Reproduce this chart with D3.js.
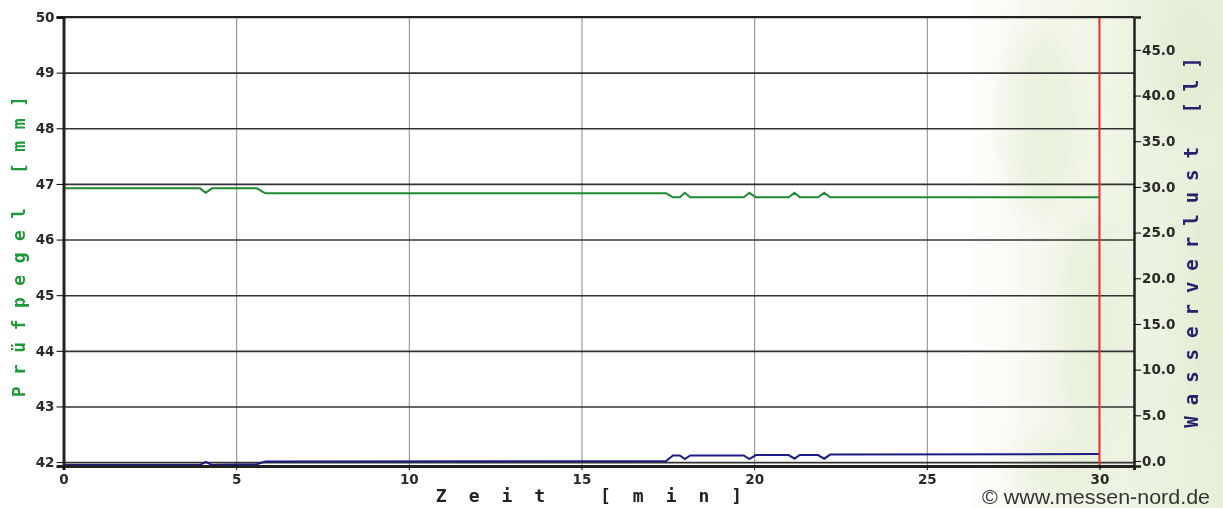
<!DOCTYPE html>
<html>
<head>
<meta charset="utf-8">
<script src="https://cdn.jsdelivr.net/npm/d3@7"></script>
<style>
  body { margin: 0; background: #fff; }
  .chart text { font-family: "Liberation Sans", Arial, sans-serif; }
  .tick text { font-family: "DejaVu Sans", sans-serif; font-size: 13.5px; font-weight: bold; fill: #2a2a2a; }
  .grid line { stroke: #333; stroke-width: 1.6; }
  .vgrid line { stroke: #888; stroke-width: 1; }
  .grid .domain, .vgrid .domain { display: none; }
</style>
</head>
<body>
<svg class="chart"></svg>
<script>
// Zeit [min]
var times = [0, 3.95, 4.12, 4.3, 5.6, 5.85, 17.45, 17.65, 17.85, 17.99, 18.15,
             19.7, 19.86, 20.05, 21.0, 21.17, 21.32, 21.85, 22.03, 22.2, 30];
// Prüfpegel [mm] (left axis)
var pruefpegel = [46.92, 46.92, 46.84, 46.92, 46.92, 46.83, 46.83, 46.76, 46.76, 46.84, 46.76,
                  46.76, 46.84, 46.76, 46.76, 46.84, 46.76, 46.76, 46.84, 46.76, 46.76];
// Wasserverlust [l] (right axis)
var wasserverlust = [-0.45, -0.45, -0.1, -0.45, -0.35, -0.05, 0.0, 0.6, 0.6, 0.2, 0.6,
                     0.6, 0.2, 0.65, 0.65, 0.25, 0.65, 0.65, 0.25, 0.7, 0.75];
// end of measurement
var endTime = 30;

var xTicks = [0, 5, 10, 15, 20, 25, 30];
var yLeftTicks = [42, 43, 44, 45, 46, 47, 48, 49, 50];
var yRightTicks = [0, 5, 10, 15, 20, 25, 30, 35, 40, 45];

(function () {
    'use strict';

    var W = 1223, H = 508;
    var left = 63.5, right = 1134, top = 17, bottom = 466;

    var svg = d3.select(".chart").attr("width", W).attr("height", H);

    // pale green paper texture on the right side
    var defs = svg.append("defs");
    var grad = defs.append("linearGradient").attr("id", "paper")
        .attr("x1", "0").attr("x2", "1").attr("y1", "0").attr("y2", "0");
    grad.append("stop").attr("offset", "0").attr("stop-color", "#ffffff");
    grad.append("stop").attr("offset", "0.3").attr("stop-color", "#f5f8ee");
    grad.append("stop").attr("offset", "1").attr("stop-color", "#e6efd8");
    defs.append("filter").attr("id", "blur")
        .append("feGaussianBlur").attr("stdDeviation", 14);

    svg.append("rect").attr("x", 960).attr("y", 0).attr("width", W - 960).attr("height", H)
        .attr("fill", "url(#paper)");
    var blobs = [[1040, 120, 35, 90], [1185, 60, 30, 70], [1090, 330, 30, 110], [1205, 300, 20, 120], [1060, 470, 45, 30]];
    svg.append("g").attr("filter", "url(#blur)").selectAll("ellipse").data(blobs).enter()
        .append("ellipse")
        .attr("cx", function (d) { return d[0]; }).attr("cy", function (d) { return d[1]; })
        .attr("rx", function (d) { return d[2]; }).attr("ry", function (d) { return d[3]; })
        .attr("fill", "#dde9c9").attr("opacity", 0.45);

    var x = d3.scaleLinear().domain([0, 31]).range([left, right]);
    var yL = d3.scaleLinear().domain([41.93, 50]).range([bottom, top]);
    var yR = d3.scaleLinear().domain([-0.55, 48.6]).range([bottom, top]);

    // vertical grid
    svg.append("g").attr("class", "vgrid")
        .attr("transform", "translate(0," + bottom + ")")
        .call(d3.axisBottom(x).tickValues([5, 10, 15, 20, 25]).tickSize(-(bottom - top)).tickFormat(""));

    // horizontal grid
    svg.append("g").attr("class", "grid")
        .attr("transform", "translate(" + left + ",0)")
        .call(d3.axisLeft(yL).tickValues(yLeftTicks).tickSize(-(right - left)).tickFormat(""));

    // series
    var idx = d3.range(times.length);
    var lineL = d3.line().x(function (i) { return x(times[i]); }).y(function (i) { return yL(pruefpegel[i]); });
    var lineR = d3.line().x(function (i) { return x(times[i]); }).y(function (i) { return yR(wasserverlust[i]); });

    svg.append("path").attr("d", lineR(idx))
        .attr("fill", "none").attr("stroke", "#1c1c86").attr("stroke-width", 2);
    svg.append("path").attr("d", lineL(idx))
        .attr("fill", "none").attr("stroke", "#1f8a30").attr("stroke-width", 2);

    // end marker
    svg.append("line")
        .attr("x1", x(endTime)).attr("x2", x(endTime))
        .attr("y1", top).attr("y2", bottom)
        .attr("stroke", "#e5302a").attr("stroke-width", 2);

    // left axis
    var gL = svg.append("g").attr("transform", "translate(" + left + ",0)");
    gL.call(d3.axisLeft(yL).tickValues(d3.range(42, 50.01, 0.25)).tickSize(4).tickFormat(""));
    gL.call(d3.axisLeft(yL).tickValues(yLeftTicks).tickSize(7).tickPadding(2).tickFormat(d3.format("d")));
    gL.select(".domain").attr("stroke", "#222").attr("stroke-width", 3);

    // right axis
    var gR = svg.append("g").attr("transform", "translate(" + right + ",0)");
    gR.call(d3.axisRight(yR).tickValues(d3.range(0, 48.6, 1.25)).tickSize(4).tickFormat(""));
    gR.call(d3.axisRight(yR).tickValues(yRightTicks).tickSize(7).tickPadding(1).tickFormat(d3.format(".1f")));
    gR.select(".domain").attr("stroke", "#222").attr("stroke-width", 2.5);

    // bottom axis
    var gB = svg.append("g").attr("transform", "translate(0," + bottom + ")");
    gB.call(d3.axisBottom(x).tickValues(d3.range(0, 31.01, 1.25)).tickSize(3).tickFormat(""));
    gB.call(d3.axisBottom(x).tickValues(xTicks).tickSize(4).tickPadding(4).tickFormat(d3.format("d")));
    gB.select(".domain").attr("stroke", "#222").attr("stroke-width", 3);

    // top border
    svg.append("line").attr("x1", left).attr("x2", right).attr("y1", top).attr("y2", top)
        .attr("stroke", "#222").attr("stroke-width", 2);

    // axis titles
    var mono = "'DejaVu Sans Mono', monospace";
    svg.append("text")
        .attr("x", 600).attr("y", 502)
        .attr("text-anchor", "middle")
        .style("font-family", mono).style("font-weight", "bold")
        .style("font-size", "18px").style("letter-spacing", "22px")
        .attr("fill", "#222")
        .text("Zeit [min]");

    svg.append("text")
        .attr("transform", "translate(25,241) rotate(-90)")
        .attr("text-anchor", "middle")
        .style("font-family", mono).style("font-weight", "bold")
        .style("font-size", "18px").style("letter-spacing", "11.5px")
        .attr("fill", "#1f9a38")
        .text("Prüfpegel [mm]");

    svg.append("text")
        .attr("transform", "translate(1198,237) rotate(-90)")
        .attr("text-anchor", "middle")
        .style("font-family", mono).style("font-weight", "bold")
        .style("font-size", "19px").style("letter-spacing", "11px")
        .attr("fill", "#23236e")
        .text("Wasserverlust [l]");

    svg.append("text")
        .attr("x", 982).attr("y", 504)
        .attr("textLength", 228).attr("lengthAdjust", "spacingAndGlyphs")
        .style("font-size", "21px")
        .attr("fill", "#333")
        .text("© www.messen-nord.de");
})();
</script>
</body>
</html>
